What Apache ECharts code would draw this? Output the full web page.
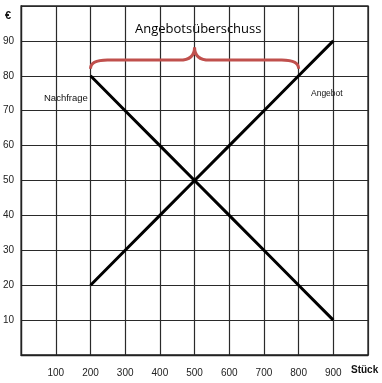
<!DOCTYPE html>
<html>
<head>
<meta charset="utf-8">
<script src="https://cdn.jsdelivr.net/npm/echarts@6/dist/echarts.min.js"></script>
<style>
html,body{margin:0;padding:0;background:#fff;}
#c{width:382px;height:383px;}
</style>
</head>
<body>
<div id="c"></div>
<script>
// Data
var quantities = [200, 300, 400, 500, 600, 700, 800, 900];
var angebot    = [20, 30, 40, 50, 60, 70, 80, 90];
var nachfrage  = [80, 70, 60, 50, 40, 30, 20, 10];
var xTicks = [100, 200, 300, 400, 500, 600, 700, 800, 900];
var yTicks = [10, 20, 30, 40, 50, 60, 70, 80, 90];
// brace spanning the surplus: from quantity 200 to 800 at price level 80
var braceRange = [200, 800];
var braceLevels = [82, 84.5, 88.2]; // end hooks, horizontal, tip

var chart = echarts.init(document.getElementById('c'), null, {renderer: 'canvas'});

function pair(xs, ys) { return xs.map(function (x, i) { return [x, ys[i]]; }); }

var option = {
  animation: false,
  backgroundColor: '#fff',
  grid: {left: 21, right: 14, top: 6, bottom: 28, show: true, borderColor: '#222', borderWidth: 1.3, backgroundColor: 'transparent'},
  xAxis: {
    type: 'value', min: 0, max: 1000, interval: 100,
    axisLine: {show: true, lineStyle: {color: '#222', width: 1.3}},
    axisTick: {show: false},
    splitLine: {show: true, lineStyle: {color: '#2a2a2a', width: 1.2}},
    axisLabel: {
      margin: 13, color: '#222', fontSize: 10, fontFamily: 'Liberation Sans',
      formatter: function (v) { return xTicks.indexOf(v) >= 0 ? String(v) : ''; }
    }
  },
  yAxis: {
    type: 'value', min: 0, max: 100, interval: 10,
    axisLine: {show: true, lineStyle: {color: '#222', width: 1.3}},
    axisTick: {show: false},
    splitLine: {show: true, lineStyle: {color: '#2a2a2a', width: 1.2}},
    axisLabel: {
      margin: 7, color: '#222', fontSize: 10, fontFamily: 'Liberation Sans',
      formatter: function (v) { return yTicks.indexOf(v) >= 0 ? String(v) : ''; }
    }
  },
  series: [
    {
      name: 'Angebot', type: 'line', data: pair(quantities, angebot),
      symbol: 'none', lineStyle: {color: '#000', width: 3}
    },
    {
      name: 'Nachfrage', type: 'line', data: pair(quantities, nachfrage),
      symbol: 'none', lineStyle: {color: '#000', width: 3}
    },
    {
      name: 'Angebotsüberschuss', type: 'custom',
      data: [[braceRange[0], braceRange[1], braceLevels[0], braceLevels[1], braceLevels[2]]],
      renderItem: function (params, api) {
        var x0 = api.value(0), x1 = api.value(1);
        var L = api.coord([x0, api.value(2)]);
        var R = api.coord([x1, api.value(2)]);
        var hy = api.coord([x0, api.value(3)])[1];
        var tip = api.coord([(x0 + x1) / 2, api.value(4)]);
        var r = 17, rt = 15;
        var d = 'M' + L[0] + ' ' + L[1] +
          ' Q' + L[0] + ' ' + hy + ' ' + (L[0] + r) + ' ' + hy +
          ' L' + (tip[0] - rt) + ' ' + hy +
          ' Q' + tip[0] + ' ' + hy + ' ' + tip[0] + ' ' + tip[1] +
          ' Q' + tip[0] + ' ' + hy + ' ' + (tip[0] + rt) + ' ' + hy +
          ' L' + (R[0] - r) + ' ' + hy +
          ' Q' + R[0] + ' ' + hy + ' ' + R[0] + ' ' + R[1];
        return {
          type: 'path',
          shape: {pathData: d},
          style: {fill: null, stroke: '#c0504d', lineWidth: 3}
        };
      },
      z: 5
    }
  ],
  graphic: [
    {type: 'text', left: 135, top: 23, style: {text: 'Angebotsüberschuss', font: '13px "Open Sans"', fill: '#000'}},
    {type: 'text', left: 5, top: 10, style: {text: '€', font: 'bold 11px "Liberation Sans"', fill: '#111'}},
    {type: 'text', left: 351, top: 365, style: {text: 'Stück', font: 'bold 10px "Liberation Sans"', fill: '#111'}},
    {type: 'text', left: 44, top: 93, style: {text: 'Nachfrage', font: '9.5px "Liberation Sans"', fill: '#111'}},
    {type: 'text', left: 311, top: 89, style: {text: 'Angebot', font: '8.5px "Liberation Sans"', fill: '#111'}}
  ]
};
chart.setOption(option);
</script>
</body>
</html>
